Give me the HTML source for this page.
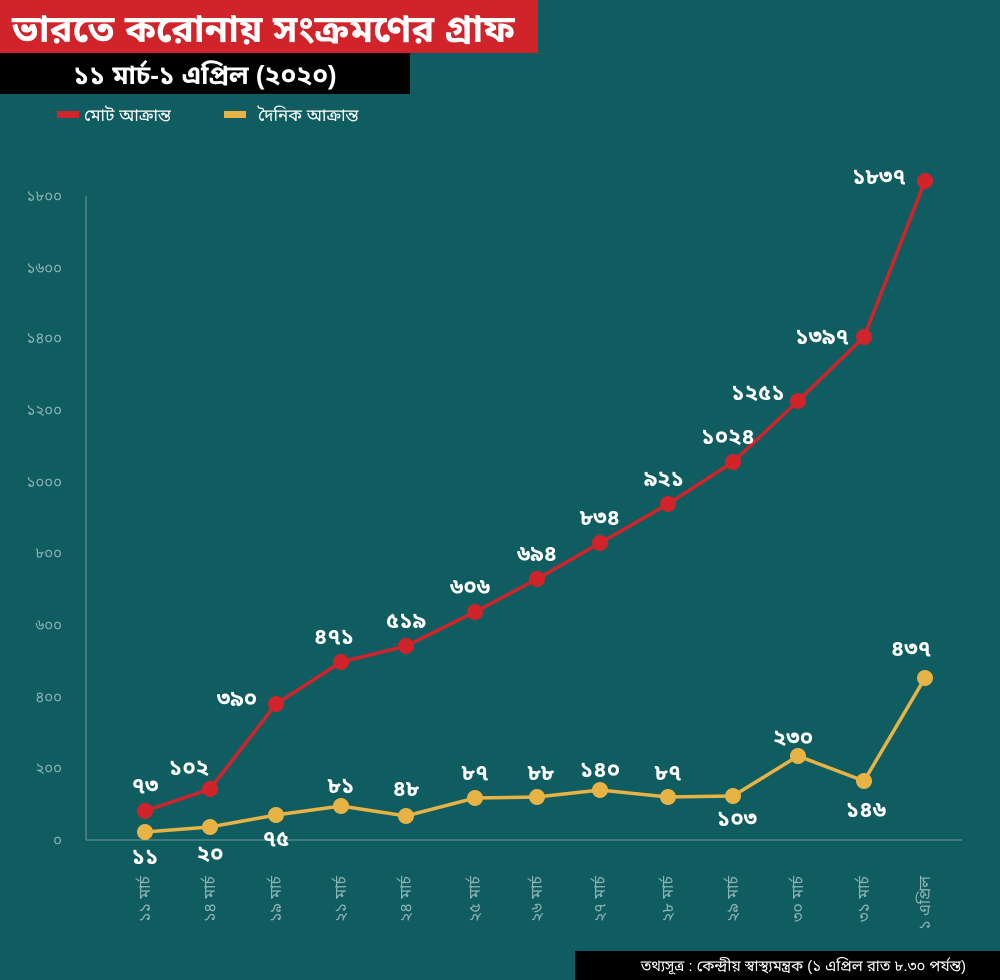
<!DOCTYPE html>
<html><head><meta charset="utf-8"><style>
body{margin:0;width:1000px;height:980px;background:#0f5d61;overflow:hidden;font-family:"Liberation Sans","Noto Sans Bengali","Lohit Bengali","FreeSans",sans-serif}
</style></head><body>
<svg width="1000" height="980" xmlns="http://www.w3.org/2000/svg" style="position:absolute;left:0;top:0;font-family:'Liberation Sans','Noto Sans Bengali','Lohit Bengali',sans-serif">
<rect x="0" y="0" width="538" height="53" fill="#d1232a"/>
<text x="12" y="42" font-size="38" font-weight="bold" fill="#fff">ভারতে করোনায় সংক্রমণের গ্রাফ</text>
<rect x="0" y="53" width="410" height="41" fill="#000"/>
<text x="205" y="84" font-size="26" font-weight="bold" fill="#fff" text-anchor="middle">১১ মার্চ-১ এপ্রিল (২০২০)</text>
<rect x="57" y="111" width="22" height="7" fill="#d1232a"/>
<text x="84" y="121" font-size="17" fill="#fff">মোট আক্রান্ত</text>
<rect x="224" y="111" width="22" height="7" fill="#e8b345"/>
<text x="258" y="121" font-size="17" fill="#fff">দৈনিক আক্রান্ত</text>
<g stroke="#6f9c9e" stroke-width="1" fill="none"><line x1="86" y1="196" x2="86" y2="840"/><line x1="86" y1="840" x2="962" y2="840"/></g>
<g fill="#8fb3b4" font-size="15" text-anchor="end">
<text x="62" y="845">০</text><text x="62" y="773">২০০</text><text x="62" y="702">৪০০</text><text x="62" y="630">৬০০</text><text x="62" y="558">৮০০</text><text x="62" y="487">১০০০</text><text x="62" y="415">১২০০</text><text x="62" y="343">১৪০০</text><text x="62" y="273">১৬০০</text><text x="62" y="201">১৮০০</text>
</g>
<g fill="#8fb3b4" font-size="16" text-anchor="end">
<text transform="translate(150,876) rotate(-90)">১১ মার্চ</text>
<text transform="translate(215,876) rotate(-90)">১৪ মার্চ</text>
<text transform="translate(281,876) rotate(-90)">১৯ মার্চ</text>
<text transform="translate(346,876) rotate(-90)">২১ মার্চ</text>
<text transform="translate(411,876) rotate(-90)">২৪ মার্চ</text>
<text transform="translate(480,876) rotate(-90)">২৫ মার্চ</text>
<text transform="translate(542,876) rotate(-90)">২৬ মার্চ</text>
<text transform="translate(605,876) rotate(-90)">২৭ মার্চ</text>
<text transform="translate(673,876) rotate(-90)">২৮ মার্চ</text>
<text transform="translate(738,876) rotate(-90)">২৯ মার্চ</text>
<text transform="translate(803,876) rotate(-90)">৩০ মার্চ</text>
<text transform="translate(869,876) rotate(-90)">৩১ মার্চ</text>
<text transform="translate(930,876) rotate(-90)">১ এপ্রিল</text>
</g>
<polyline fill="none" stroke="#d1232a" stroke-width="3.5" points="145,811 210,789 276,704 341,662 406,646 475,612 537,579 600,543 668,504 733,462 798,401 864,337 925,181"/>
<polyline fill="none" stroke="#e8b345" stroke-width="3.5" points="145,832 210,827 276,815 341,806 406,816 475,798 537,797 600,790 668,797 733,796 798,756 864,781 925,678"/>
<g fill="#d1232a">
<circle cx="145" cy="811" r="8"/><circle cx="210" cy="789" r="8"/><circle cx="276" cy="704" r="8"/><circle cx="341" cy="662" r="8"/><circle cx="406" cy="646" r="8"/><circle cx="475" cy="612" r="8"/><circle cx="537" cy="579" r="8"/><circle cx="600" cy="543" r="8"/><circle cx="668" cy="504" r="8"/><circle cx="733" cy="462" r="8"/><circle cx="798" cy="401" r="8"/><circle cx="864" cy="337" r="8"/><circle cx="925" cy="181" r="8"/>
</g>
<g fill="#e8b345">
<circle cx="145" cy="832" r="8"/><circle cx="210" cy="827" r="8"/><circle cx="276" cy="815" r="8"/><circle cx="341" cy="806" r="8"/><circle cx="406" cy="816" r="8"/><circle cx="475" cy="798" r="8"/><circle cx="537" cy="797" r="8"/><circle cx="600" cy="790" r="8"/><circle cx="668" cy="797" r="8"/><circle cx="733" cy="796" r="8"/><circle cx="798" cy="756" r="8"/><circle cx="864" cy="781" r="8"/><circle cx="925" cy="678" r="8"/>
</g>
<g fill="#fff" font-size="22" font-weight="bold" text-anchor="middle">
<text x="145" y="793">৭৩</text><text x="189" y="775">১০২</text><text x="237" y="706">৩৯০</text><text x="334" y="644">৪৭১</text><text x="406" y="628">৫১৯</text><text x="470" y="594">৬০৬</text><text x="537" y="561">৬৯৪</text><text x="600" y="525">৮৩৪</text><text x="664" y="486">৯২১</text><text x="728" y="444">১০২৪</text><text x="758" y="400">১২৫১</text><text x="822" y="344">১৩৯৭</text><text x="879" y="184">১৮৩৭</text>
<text x="145" y="864">১১</text><text x="210" y="861">২০</text><text x="276" y="846">৭৫</text><text x="341" y="793">৮১</text><text x="406" y="796">৪৮</text><text x="475" y="780">৮৭</text><text x="541" y="780">৮৮</text><text x="600" y="777">১৪০</text><text x="668" y="780">৮৭</text><text x="737" y="826">১০৩</text><text x="793" y="745">২৩০</text><text x="866" y="817">১৪৬</text><text x="911" y="656">৪৩৭</text>
</g>
<rect x="575" y="951" width="425" height="29" fill="#000"/>
<text x="966" y="971" font-size="15" fill="#fff" text-anchor="end">তথ্যসূত্র : কেন্দ্রীয় স্বাস্থ্যমন্ত্রক (১ এপ্রিল  রাত ৮.৩০ পর্যন্ত)</text>
</svg>
</body></html>
